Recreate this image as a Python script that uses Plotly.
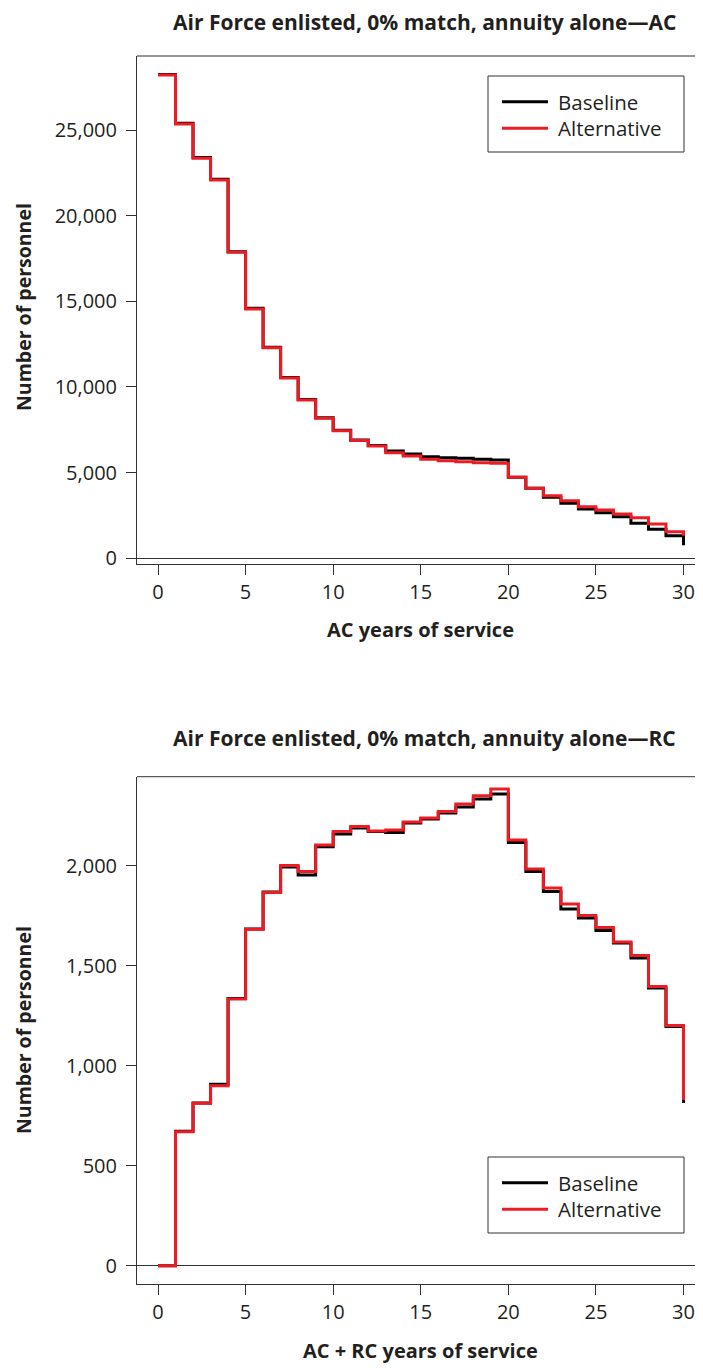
import plotly.graph_objects as go

# The page body adds an 8px margin, so the figure is sized to fill the rest.
OFF = 8
WIN_W, WIN_H = 703, 1368
W, H = WIN_W - OFF, WIN_H - OFF

years = list(range(0, 31))

ac_baseline = [28240, 25390, 23390, 22120, 17900, 14590, 12320, 10550, 9270, 8200,
               7480, 6900, 6590, 6260, 6090, 5930, 5870, 5840, 5780, 5740,
               4730, 4090, 3560, 3210, 2880, 2660, 2430, 2040, 1690, 1320, 760]
ac_alternative = [28210, 25350, 23350, 22080, 17860, 14550, 12290, 10520, 9240, 8170,
                  7450, 6870, 6560, 6160, 5970, 5780, 5700, 5640, 5580, 5550,
                  4730, 4090, 3650, 3360, 3010, 2820, 2590, 2370, 2000, 1550, 1320]

rc_baseline = [0, 672, 814, 907, 1336, 1684, 1868, 1993, 1954, 2095,
               2159, 2188, 2171, 2166, 2213, 2233, 2263, 2293, 2333, 2358,
               2116, 1971, 1871, 1783, 1738, 1676, 1613, 1538, 1388, 1196, 814]
rc_alternative = [0, 670, 812, 900, 1334, 1682, 1866, 2001, 1971, 2104,
                  2171, 2196, 2174, 2179, 2218, 2238, 2271, 2308, 2350, 2383,
                  2129, 1983, 1888, 1809, 1751, 1691, 1618, 1551, 1396, 1201, 829]

series_names = ["Baseline", "Alternative"]
titles = ["Air Force enlisted, 0% match, annuity alone\u2014AC",
          "Air Force enlisted, 0% match, annuity alone\u2014RC"]
x_titles = ["AC years of service", "AC + RC years of service"]
y_title = "Number of personnel"

top_yticks = [0, 5000, 10000, 15000, 20000, 25000]
bot_yticks = [0, 500, 1000, 1500, 2000]
x_ticks = [0, 5, 10, 15, 20, 25, 30]

BLACK = "#000000"
RED = "#ed1c24"
TXT = "#231f20"
AX = "#333333"
FONT = "Open Sans"


def py(p):  # window pixel y (from top) -> paper
    return 1 - (p - OFF) / H


def px(p):  # window pixel x -> paper
    return (p - OFF) / W


fig = go.Figure()

fig.add_trace(go.Scatter(x=years, y=ac_baseline, mode="lines", line_shape="hv",
                         line=dict(color=BLACK, width=3), name=series_names[0],
                         xaxis="x", yaxis="y"))
fig.add_trace(go.Scatter(x=years, y=ac_alternative, mode="lines", line_shape="hv",
                         line=dict(color=RED, width=3), name=series_names[1],
                         xaxis="x", yaxis="y"))
fig.add_trace(go.Scatter(x=years, y=rc_baseline, mode="lines", line_shape="hv",
                         line=dict(color=BLACK, width=3), name=series_names[0],
                         xaxis="x2", yaxis="y2"))
fig.add_trace(go.Scatter(x=years, y=rc_alternative, mode="lines", line_shape="hv",
                         line=dict(color=RED, width=3), name=series_names[1],
                         xaxis="x2", yaxis="y2"))

x0_px, x30_px = 158.0, 683.5
ppy = (x30_px - x0_px) / 30
xr = [(137 - x0_px) / ppy, (WIN_W - x0_px) / ppy]

top_dom = [py(564), py(56)]
bot_dom = [py(1284.3), py(776.7)]

common_x = dict(range=xr, tickvals=x_ticks, ticks="outside", ticklen=10, tickwidth=1,
                tickcolor=AX, showline=True, linecolor=AX, linewidth=1,
                showgrid=False, zeroline=False, automargin=False,
                tickfont=dict(family=FONT, size=20, color=TXT),
                domain=[px(137), 1])
common_y = dict(ticks="outside", ticklen=10, tickwidth=1, tickcolor=AX,
                showline=True, linecolor=AX, linewidth=1, showgrid=False,
                zeroline=True, zerolinecolor=AX, zerolinewidth=1,
                automargin=False, tickformat=",d", ticklabelstandoff=5,
                tickfont=dict(family=FONT, size=20, color=TXT))

fig.update_layout(
    width=W, height=H,
    margin=dict(l=0, r=0, t=0, b=0),
    paper_bgcolor="white", plot_bgcolor="white",
    font=dict(family=FONT, color=TXT),
    xaxis=dict(anchor="y", **common_x),
    yaxis=dict(anchor="x", domain=top_dom, range=[-333, 29322], tickvals=top_yticks, **common_y),
    xaxis2=dict(anchor="y2", **common_x),
    yaxis2=dict(anchor="x2", domain=bot_dom, range=[-93, 2445], tickvals=bot_yticks, **common_y),
    showlegend=False,
)

# top border line of each plot box
for dom in (top_dom, bot_dom):
    fig.add_shape(type="line", xref="paper", yref="paper", x0=px(137), x1=1,
                  y0=dom[1], y1=dom[1], line=dict(color=AX, width=1))

# legends (box, line samples, labels)
colors = [BLACK, RED]
for box_top in (76, 1157):
    fig.add_shape(type="rect", xref="paper", yref="paper",
                  x0=px(488), x1=px(684), y0=py(box_top), y1=py(box_top + 76),
                  line=dict(color=AX, width=1), fillcolor="white", layer="above")
    for i, (nm, col) in enumerate(zip(series_names, colors)):
        yc = box_top + 25.7 + i * 26.6
        fig.add_shape(type="line", xref="paper", yref="paper",
                      x0=px(502), x1=px(548), y0=py(yc), y1=py(yc),
                      line=dict(color=col, width=3), layer="above")
        fig.add_annotation(text=nm, x=px(556), y=py(yc), xref="paper", yref="paper",
                           showarrow=False, xanchor="left", yanchor="middle",
                           font=dict(family=FONT, size=20.5, color=TXT))

ann = []
ann.append(dict(text=titles[0], x=px(424), y=py(22), size=21))
ann.append(dict(text=titles[1], x=px(424), y=py(738), size=21))
ann.append(dict(text=x_titles[0], x=px(420), y=py(630), size=20))
ann.append(dict(text=x_titles[1], x=px(420), y=py(1350), size=20))
for a in ann:
    fig.add_annotation(text="<b>%s</b>" % a["text"], x=a["x"], y=a["y"], xref="paper",
                       yref="paper", showarrow=False, xanchor="center", yanchor="middle",
                       font=dict(family=FONT, size=a["size"], color=TXT))
for yc in (307, 1030):
    fig.add_annotation(text="<b>%s</b>" % y_title, x=px(23), y=py(yc), xref="paper",
                       yref="paper", showarrow=False, xanchor="center", yanchor="middle",
                       textangle=-90, font=dict(family=FONT, size=19.5, color=TXT))

fig.write_html("out.html")
